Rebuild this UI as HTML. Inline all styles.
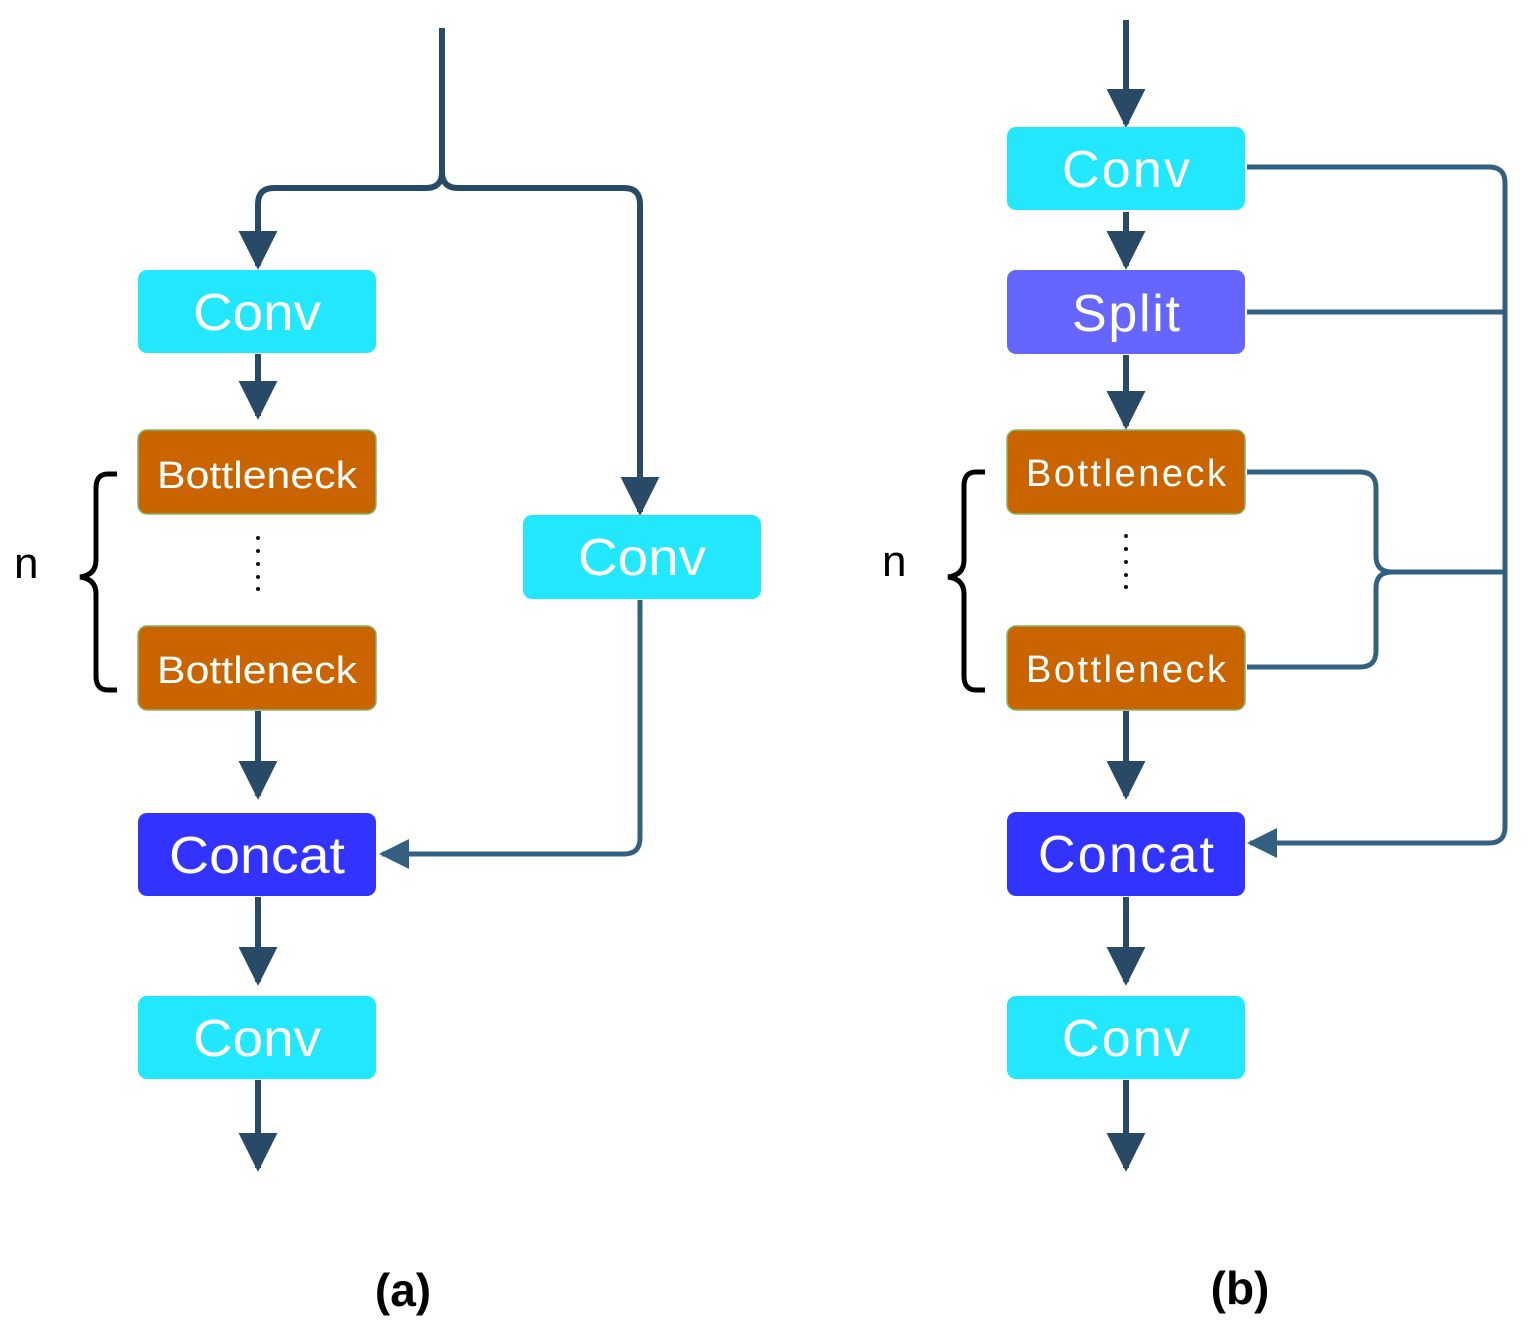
<!DOCTYPE html>
<html><head><style>body{margin:0;background:#fff}svg{display:block}</style></head><body>
<svg width="1533" height="1332" viewBox="0 0 1533 1332" xmlns="http://www.w3.org/2000/svg" font-family="Liberation Sans, sans-serif">
<defs>
<marker id="ah" viewBox="0 0 10 10" refX="9" refY="5" markerWidth="6.5" markerHeight="6.5" markerUnits="strokeWidth" orient="auto"><path d="M0,0 L10,5 L0,10 z" fill="#294a66"/></marker>
<marker id="ah2" viewBox="0 0 10 10" refX="9" refY="5" markerWidth="6" markerHeight="6" markerUnits="strokeWidth" orient="auto"><path d="M0,0 L10,5 L0,10 z" fill="#336080"/></marker>
</defs>
<g fill="none" stroke="#294a66" stroke-width="6">
<path d="M442,28 V172 Q442,188 426,188 H274 Q258,188 258,204 V266" marker-end="url(#ah)"/>
<path d="M442,172 Q442,188 458,188 H624 Q640,188 640,204 V512" marker-end="url(#ah)"/>
<path d="M258,354 V416" marker-end="url(#ah)"/>
<path d="M258,711 V796" marker-end="url(#ah)"/>
<path d="M258,897 V982" marker-end="url(#ah)"/>
<path d="M258,1080 V1168" marker-end="url(#ah)"/>
<path d="M1126,20 V124" marker-end="url(#ah)"/>
<path d="M1126,212 V266" marker-end="url(#ah)"/>
<path d="M1126,355 V426" marker-end="url(#ah)"/>
<path d="M1126,711 V796" marker-end="url(#ah)"/>
<path d="M1126,897 V982" marker-end="url(#ah)"/>
<path d="M1126,1080 V1168" marker-end="url(#ah)"/>
</g>
<g fill="none" stroke="#336080" stroke-width="5">
<path d="M640,600 V838 Q640,854 624,854 H382" marker-end="url(#ah2)"/>
<path d="M1247,167 H1489 Q1505,167 1505,183 V827 Q1505,843 1489,843 H1250" marker-end="url(#ah2)"/>
<path d="M1247,312 H1505"/>
<path d="M1247,472 H1360 Q1376,472 1376,488 V556 Q1376,572 1392,572 H1505"/>
<path d="M1247,667 H1360 Q1376,667 1376,651 V588 Q1376,572 1392,572"/>
</g>
<g>
<rect x="138" y="270" width="238" height="83" rx="9" fill="#23e8fd"/>
<rect x="138" y="430" width="238" height="84" rx="9" fill="#c96400" stroke="#7fb86a" stroke-width="1.5"/>
<rect x="138" y="626" width="238" height="84" rx="9" fill="#c96400" stroke="#7fb86a" stroke-width="1.5"/>
<rect x="138" y="813" width="238" height="83" rx="9" fill="#3333ff"/>
<rect x="138" y="996" width="238" height="83" rx="9" fill="#23e8fd"/>
<rect x="523" y="515" width="238" height="84" rx="9" fill="#23e8fd"/>
<rect x="1007" y="127" width="238" height="83" rx="9" fill="#23e8fd"/>
<rect x="1007" y="270" width="238" height="84" rx="9" fill="#6666ff"/>
<rect x="1007" y="430" width="238" height="84" rx="9" fill="#c96400" stroke="#7fb86a" stroke-width="1.5"/>
<rect x="1007" y="626" width="238" height="84" rx="9" fill="#c96400" stroke="#7fb86a" stroke-width="1.5"/>
<rect x="1007" y="812" width="238" height="84" rx="9" fill="#3333ff"/>
<rect x="1007" y="996" width="238" height="83" rx="9" fill="#23e8fd"/>
</g>
<g fill="#fff" text-anchor="middle" font-size="52">
<text x="257" y="330" textLength="128" lengthAdjust="spacingAndGlyphs">Conv</text>
<text x="257" y="873" textLength="176" lengthAdjust="spacingAndGlyphs">Concat</text>
<text x="257" y="1056" textLength="128" lengthAdjust="spacingAndGlyphs">Conv</text>
<text x="642" y="575" textLength="128" lengthAdjust="spacingAndGlyphs">Conv</text>
<text x="1126" y="187" textLength="128">Conv</text>
<text x="1126" y="331" textLength="108">Split</text>
<text x="1126" y="872" textLength="176">Concat</text>
<text x="1126" y="1056" textLength="128">Conv</text>
</g>
<g fill="#fff" text-anchor="middle" font-size="38">
<text x="257" y="488" textLength="200" lengthAdjust="spacingAndGlyphs">Bottleneck</text>
<text x="257" y="683" textLength="200" lengthAdjust="spacingAndGlyphs">Bottleneck</text>
<text x="1126" y="486" textLength="200">Bottleneck</text>
<text x="1126" y="682" textLength="200">Bottleneck</text>
</g>
<g fill="#111">
<circle cx="258" cy="538" r="2"/><circle cx="258" cy="551" r="2"/><circle cx="258" cy="564" r="2"/><circle cx="258" cy="577" r="2"/><circle cx="258" cy="589" r="2"/>
<circle cx="1126" cy="536" r="2"/><circle cx="1126" cy="549" r="2"/><circle cx="1126" cy="562" r="2"/><circle cx="1126" cy="575" r="2"/><circle cx="1126" cy="587" r="2"/>
</g>
<g fill="none" stroke="#000" stroke-width="5">
<path d="M117,474 H108 Q96,474 96,488 V560 Q96,575 80,577 Q96,579 96,594 V676 Q96,690 108,690 H117"/>
<path d="M985,472 H976 Q964,472 964,486 V560 Q964,575 948,577 Q964,579 964,594 V676 Q964,690 976,690 H985"/>
</g>
<g font-size="44" fill="#000">
<text x="14" y="578">n</text>
<text x="882" y="576">n</text>
</g>
<g font-size="46" font-weight="bold" fill="#000" text-anchor="middle">
<text x="403" y="1306">(a)</text>
<text x="1240" y="1304">(b)</text>
</g>
</svg>
</body></html>
